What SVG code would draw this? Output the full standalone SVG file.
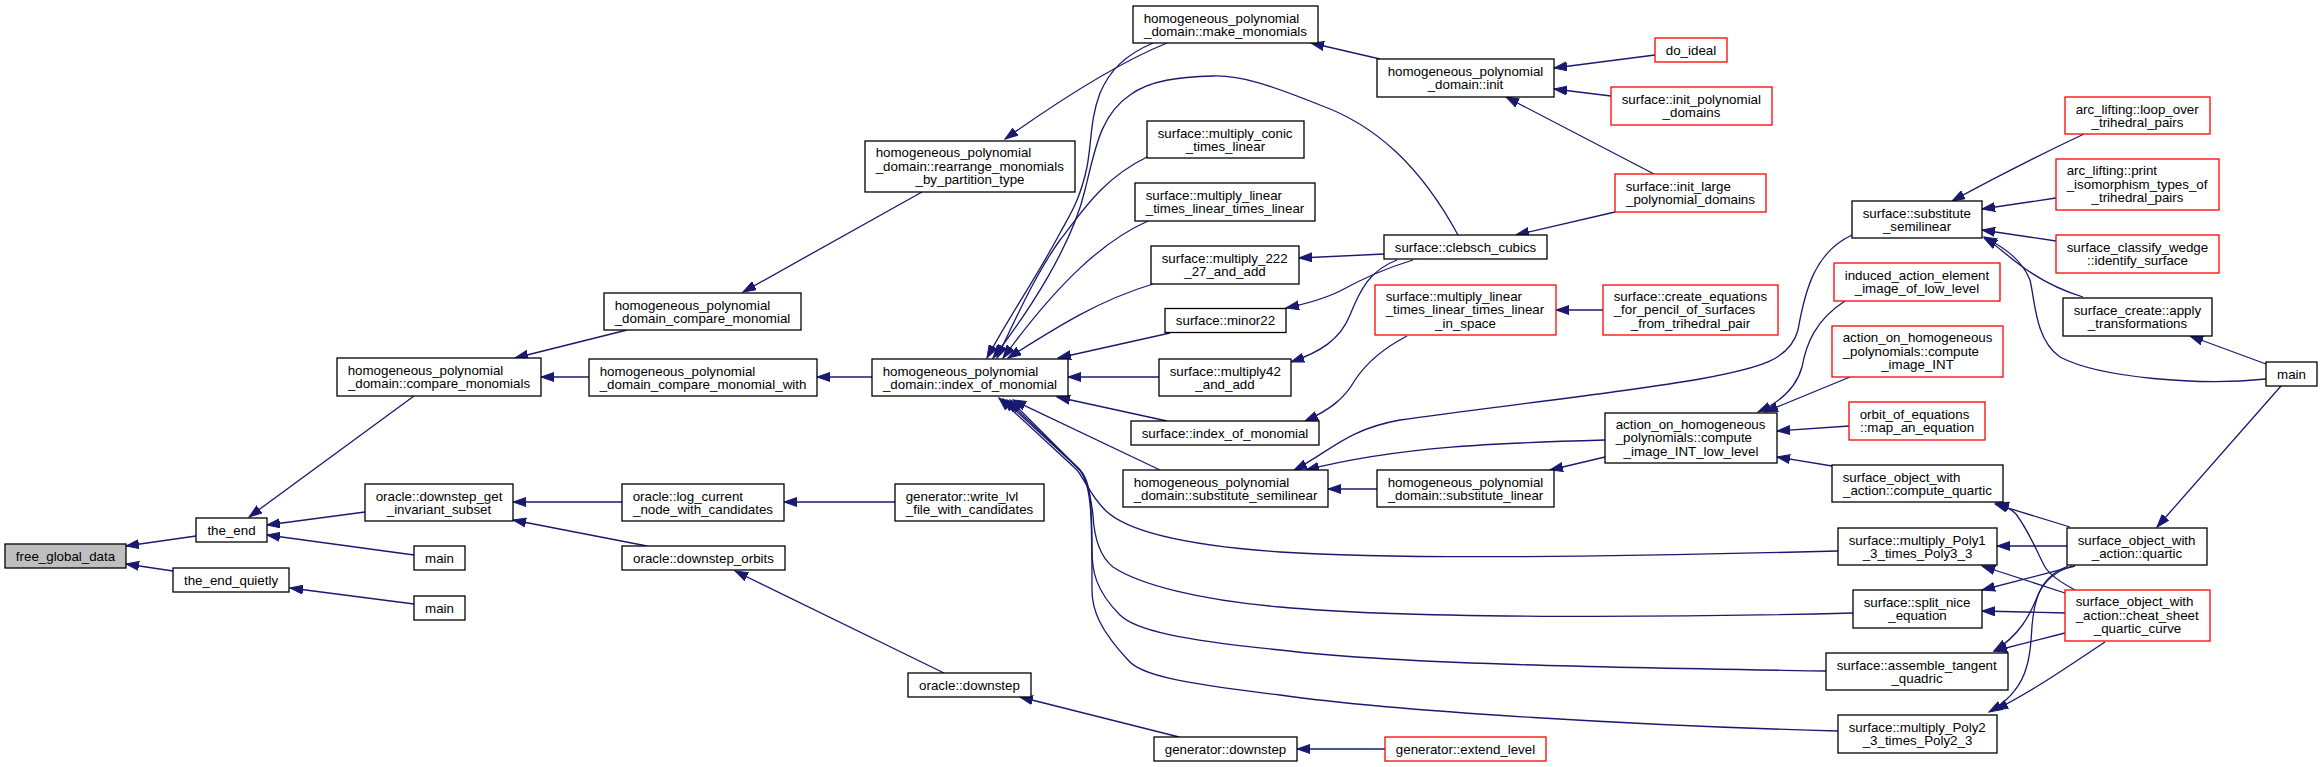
<svg xmlns="http://www.w3.org/2000/svg" width="2323" height="767" viewBox="0 0 2323 767">
<style>
.n rect{fill:#fff;stroke:#000;stroke-width:1.3}
.r rect{stroke:#ff0000}
.g rect{fill:#bfbfbf}
text{font-family:"Liberation Sans",Arial,Helvetica,sans-serif;font-size:13.33px;fill:#000}
.m{text-anchor:middle}
#edges path{fill:none;stroke:#191970;stroke-width:1.3;marker-end:url(#a)}
</style>
<defs>
<marker id="a" markerUnits="userSpaceOnUse" markerWidth="14" markerHeight="10" refX="13" refY="5" orient="auto"><path d="M0,0.5 L13,5 L0,9.5 z" fill="#191970" stroke="#191970" stroke-width="1"/></marker>
</defs>
<rect width="2323" height="767" fill="#fff"/>
<g id="edges">
<path d="M196,536 L126,546"/>
<path d="M173,571 L126,564"/>
<path d="M414,396 L249,517"/>
<path d="M365,512 L267,525"/>
<path d="M414,555 L267,535"/>
<path d="M414,604 L290,588"/>
<path d="M627,330 L515,358"/>
<path d="M589,377 L541,377"/>
<path d="M922,192 L743,292"/>
<path d="M1167,43 C1120,62 1060,100 1005,139"/>
<path d="M872,377 L817,377"/>
<path d="M1153,43 C1125,55 1110,70 1100,93 C1090,120 1092,140 1087,167 C1080,200 1070,215 1060,233 C1035,280 1010,315 987,358"/>
<path d="M1458,235 C1420,165 1375,125 1320,105 C1270,85 1240,75 1213,76 C1180,77 1150,80 1130,95 C1100,115 1095,150 1085,190 C1072,245 1030,310 993,358"/>
<path d="M1147,157 C1100,180 1080,215 1060,240 C1035,275 1015,320 997,358"/>
<path d="M1148,221 C1105,240 1060,280 1003,358"/>
<path d="M1153,284 C1100,300 1060,325 1008,358"/>
<path d="M1170,333 L1058,358"/>
<path d="M1159,377 L1068,377"/>
<path d="M1167,421 L1057,397"/>
<path d="M1160,470 L1013,400"/>
<path d="M1838,551 C1650,556 1400,560 1280,552 C1180,545 1125,530 1105,510 C1090,495 1085,480 1077,470 L999,398"/>
<path d="M1853,613 C1700,617 1420,620 1280,607 C1200,600 1140,585 1113,567 C1098,555 1094,535 1093,515 C1090,490 1085,475 1078,468 L1003,399"/>
<path d="M1826,671 C1650,668 1400,665 1280,650 C1180,640 1135,630 1120,615 C1095,590 1092,570 1092,550 C1092,500 1090,480 1080,470 L1007,400"/>
<path d="M1838,731 C1650,726 1400,712 1280,695 C1180,683 1140,675 1128,660 C1100,630 1092,610 1092,590 C1092,520 1092,485 1080,470 L1010,400"/>
<path d="M1380,59 L1311,43"/>
<path d="M1655,55 L1554,68"/>
<path d="M1611,96 L1554,89"/>
<path d="M1654,174 L1506,97"/>
<path d="M1615,212 L1516,235"/>
<path d="M1384,254 L1299,258"/>
<path d="M1413,260 C1380,270 1360,280 1340,291 C1322,300 1305,304 1286,308"/>
<path d="M1397,260 C1370,270 1360,290 1350,315 C1340,340 1320,352 1291,362"/>
<path d="M1407,336 C1380,350 1365,365 1355,380 C1345,398 1330,410 1305,421"/>
<path d="M1603,310 L1556,310"/>
<path d="M1852,235 C1815,252 1805,290 1798,330 C1790,360 1760,368 1700,379 C1600,396 1480,408 1400,420 C1345,430 1330,452 1294,470"/>
<path d="M1605,440 C1500,443 1400,446 1306,470"/>
<path d="M1377,489 L1328,489"/>
<path d="M1605,457 L1550,470"/>
<path d="M1845,301 C1815,320 1806,345 1802,367 C1797,385 1785,400 1758,412"/>
<path d="M1850,377 L1765,412"/>
<path d="M1849,426 L1777,431"/>
<path d="M1832,466 L1777,457"/>
<path d="M2084,134 C2050,150 2000,175 1952,201"/>
<path d="M2056,198 L1982,209"/>
<path d="M2056,241 L1982,230"/>
<path d="M2083,297 C2060,290 2040,280 2020,265 C2005,254 1998,246 1984,238"/>
<path d="M2266,379 C2200,386 2100,378 2060,357 C2035,340 2035,300 2030,280 C2022,260 2005,248 1984,237"/>
<path d="M2266,364 L2190,336"/>
<path d="M2281,386 L2157,527"/>
<path d="M2070,527 L1995,504"/>
<path d="M2067,546 L1997,546"/>
<path d="M2075,566 L1982,590"/>
<path d="M2072,566 C2055,572 2045,580 2038,595 C2030,615 2020,635 1994,651"/>
<path d="M2068,566 C2045,575 2035,590 2032,626 C2030,660 2028,690 1989,712"/>
<path d="M2075,590 C2060,582 2050,575 2045,567 C2036,550 2030,533 2016,514 C2010,508 2003,505 1996,503"/>
<path d="M2065,593 L1982,566"/>
<path d="M2065,613 L1982,611"/>
<path d="M2065,633 L1994,651"/>
<path d="M2105,642 C2070,665 2035,690 1995,710"/>
<path d="M622,502 L513,502"/>
<path d="M647,546 L513,520"/>
<path d="M895,502 L784,502"/>
<path d="M944,673 L735,571"/>
<path d="M1179,737 L1020,697"/>
<path d="M1385,749 L1297,749"/>
</g>
<g id="n1" class="n g"><rect x="5" y="544" width="121" height="24"/><text class="m" x="65.5" y="560.5">free_global_data</text></g>
<g id="n2" class="n"><rect x="196" y="518" width="71" height="24"/><text class="m" x="231.5" y="534.5">the_end</text></g>
<g id="n3" class="n"><rect x="173" y="568" width="116" height="24"/><text class="m" x="231" y="584.5">the_end_quietly</text></g>
<g id="n4" class="n"><rect x="337" y="358" width="204" height="38"/><text x="347.7" y="375">homogeneous_polynomial</text><text class="m" x="439" y="388.3">_domain::compare_monomials</text></g>
<g id="n5" class="n"><rect x="365" y="484" width="148" height="37"/><text x="375.7" y="500.5">oracle::downstep_get</text><text class="m" x="439" y="513.8">_invariant_subset</text></g>
<g id="n6" class="n"><rect x="414" y="546" width="51" height="24"/><text class="m" x="439.5" y="562.5">main</text></g>
<g id="n7" class="n"><rect x="414" y="596" width="51" height="24"/><text class="m" x="439.5" y="612.5">main</text></g>
<g id="n8" class="n"><rect x="604" y="293" width="197" height="37"/><text x="614.7" y="309.5">homogeneous_polynomial</text><text class="m" x="702.5" y="322.8">_domain_compare_monomial</text></g>
<g id="n9" class="n"><rect x="589" y="359" width="228" height="37"/><text x="599.7" y="375.5">homogeneous_polynomial</text><text class="m" x="703" y="388.8">_domain_compare_monomial_with</text></g>
<g id="n10" class="n"><rect x="622" y="484" width="162" height="37"/><text x="632.7" y="500.5">oracle::log_current</text><text class="m" x="703" y="513.8">_node_with_candidates</text></g>
<g id="n11" class="n"><rect x="622" y="546" width="163" height="24"/><text class="m" x="703.5" y="562.5">oracle::downstep_orbits</text></g>
<g id="n12" class="n"><rect x="865" y="141" width="210" height="51"/><text x="875.7" y="157.3">homogeneous_polynomial</text><text x="875.7" y="170.7">_domain::rearrange_monomials</text><text class="m" x="970" y="184">_by_partition_type</text></g>
<g id="n13" class="n"><rect x="872" y="359" width="196" height="37"/><text x="882.7" y="375.5">homogeneous_polynomial</text><text class="m" x="970" y="388.8">_domain::index_of_monomial</text></g>
<g id="n14" class="n"><rect x="895" y="484" width="149" height="37"/><text x="905.7" y="500.5">generator::write_lvl</text><text class="m" x="969.5" y="513.8">_file_with_candidates</text></g>
<g id="n15" class="n"><rect x="908" y="673" width="123" height="24"/><text class="m" x="969.5" y="689.5">oracle::downstep</text></g>
<g id="n16" class="n"><rect x="1133" y="6" width="185" height="37"/><text x="1143.7" y="22.5">homogeneous_polynomial</text><text class="m" x="1225.5" y="35.8">_domain::make_monomials</text></g>
<g id="n17" class="n"><rect x="1147" y="121" width="157" height="37"/><text x="1157.7" y="137.5">surface::multiply_conic</text><text class="m" x="1225.5" y="150.8">_times_linear</text></g>
<g id="n18" class="n"><rect x="1135" y="183" width="180" height="38"/><text x="1145.7" y="200">surface::multiply_linear</text><text class="m" x="1225" y="213.3">_times_linear_times_linear</text></g>
<g id="n19" class="n"><rect x="1151" y="246" width="148" height="38"/><text x="1161.7" y="263">surface::multiply_222</text><text class="m" x="1225" y="276.3">_27_and_add</text></g>
<g id="n20" class="n"><rect x="1165" y="308.5" width="121" height="24"/><text class="m" x="1225.5" y="325">surface::minor22</text></g>
<g id="n21" class="n"><rect x="1159" y="359" width="132" height="37"/><text x="1169.7" y="375.5">surface::multiply42</text><text class="m" x="1225" y="388.8">_and_add</text></g>
<g id="n22" class="n"><rect x="1131" y="421" width="188" height="24"/><text class="m" x="1225" y="437.5">surface::index_of_monomial</text></g>
<g id="n23" class="n"><rect x="1123" y="470" width="205" height="37"/><text x="1133.7" y="486.5">homogeneous_polynomial</text><text class="m" x="1225.5" y="499.8">_domain::substitute_semilinear</text></g>
<g id="n24" class="n"><rect x="1154" y="737" width="143" height="24"/><text class="m" x="1225.5" y="753.5">generator::downstep</text></g>
<g id="n25" class="n"><rect x="1377" y="59" width="177" height="38"/><text x="1387.7" y="76">homogeneous_polynomial</text><text class="m" x="1465.5" y="89.3">_domain::init</text></g>
<g id="n26" class="n"><rect x="1384" y="235" width="163" height="24"/><text class="m" x="1465.5" y="251.5">surface::clebsch_cubics</text></g>
<g id="n27" class="n r"><rect x="1375" y="285" width="181" height="50"/><text x="1385.7" y="300.8">surface::multiply_linear</text><text x="1385.7" y="314.2">_times_linear_times_linear</text><text class="m" x="1465.5" y="327.5">_in_space</text></g>
<g id="n28" class="n"><rect x="1377" y="470" width="177" height="37"/><text x="1387.7" y="486.5">homogeneous_polynomial</text><text class="m" x="1465.5" y="499.8">_domain::substitute_linear</text></g>
<g id="n29" class="n r"><rect x="1385" y="737" width="161" height="24"/><text class="m" x="1465.5" y="753.5">generator::extend_level</text></g>
<g id="n30" class="n r"><rect x="1655" y="38" width="72" height="24"/><text class="m" x="1691" y="54.5">do_ideal</text></g>
<g id="n31" class="n r"><rect x="1611" y="87" width="161" height="38"/><text x="1621.7" y="104">surface::init_polynomial</text><text class="m" x="1691.5" y="117.3">_domains</text></g>
<g id="n32" class="n r"><rect x="1615" y="174" width="151" height="38"/><text x="1625.7" y="191">surface::init_large</text><text class="m" x="1690.5" y="204.3">_polynomial_domains</text></g>
<g id="n33" class="n r"><rect x="1603" y="285" width="175" height="50"/><text x="1613.7" y="300.8">surface::create_equations</text><text x="1613.7" y="314.2">_for_pencil_of_surfaces</text><text class="m" x="1690.5" y="327.5">_from_trihedral_pair</text></g>
<g id="n34" class="n"><rect x="1605" y="413" width="172" height="50"/><text x="1615.7" y="428.8">action_on_homogeneous</text><text x="1615.7" y="442.2">_polynomials::compute</text><text class="m" x="1691" y="455.5">_image_INT_low_level</text></g>
<g id="n35" class="n"><rect x="1852" y="201" width="130" height="37"/><text x="1862.7" y="217.5">surface::substitute</text><text class="m" x="1917" y="230.8">_semilinear</text></g>
<g id="n36" class="n r"><rect x="1834" y="263" width="166" height="38"/><text x="1844.7" y="280">induced_action_element</text><text class="m" x="1917" y="293.3">_image_of_low_level</text></g>
<g id="n37" class="n r"><rect x="1832" y="326" width="171" height="51"/><text x="1842.7" y="342.3">action_on_homogeneous</text><text x="1842.7" y="355.7">_polynomials::compute</text><text class="m" x="1917.5" y="369">_image_INT</text></g>
<g id="n38" class="n r"><rect x="1849" y="402" width="136" height="38"/><text x="1859.7" y="419">orbit_of_equations</text><text class="m" x="1917" y="432.3">::map_an_equation</text></g>
<g id="n39" class="n"><rect x="1832" y="465" width="171" height="37"/><text x="1842.7" y="481.5">surface_object_with</text><text class="m" x="1917.5" y="494.8">_action::compute_quartic</text></g>
<g id="n40" class="n"><rect x="1838" y="528" width="159" height="37"/><text x="1848.7" y="544.5">surface::multiply_Poly1</text><text class="m" x="1917.5" y="557.8">_3_times_Poly3_3</text></g>
<g id="n41" class="n"><rect x="1853" y="590" width="129" height="38"/><text x="1863.7" y="607">surface::split_nice</text><text class="m" x="1917.5" y="620.3">_equation</text></g>
<g id="n42" class="n"><rect x="1826" y="653" width="182" height="37"/><text x="1836.7" y="669.5">surface::assemble_tangent</text><text class="m" x="1917" y="682.8">_quadric</text></g>
<g id="n43" class="n"><rect x="1838" y="715" width="159" height="38"/><text x="1848.7" y="732">surface::multiply_Poly2</text><text class="m" x="1917.5" y="745.3">_3_times_Poly2_3</text></g>
<g id="n44" class="n r"><rect x="2065" y="97" width="145" height="37"/><text x="2075.7" y="113.5">arc_lifting::loop_over</text><text class="m" x="2137.5" y="126.8">_trihedral_pairs</text></g>
<g id="n45" class="n r"><rect x="2056" y="159" width="163" height="51"/><text x="2066.7" y="175.3">arc_lifting::print</text><text x="2066.7" y="188.7">_isomorphism_types_of</text><text class="m" x="2137.5" y="202">_trihedral_pairs</text></g>
<g id="n46" class="n r"><rect x="2056" y="235" width="163" height="38"/><text x="2066.7" y="252">surface_classify_wedge</text><text class="m" x="2137.5" y="265.3">::identify_surface</text></g>
<g id="n47" class="n"><rect x="2063" y="298" width="149" height="38"/><text x="2073.7" y="315">surface_create::apply</text><text class="m" x="2137.5" y="328.3">_transformations</text></g>
<g id="n48" class="n"><rect x="2266" y="362" width="51" height="24"/><text class="m" x="2291.5" y="378.5">main</text></g>
<g id="n49" class="n"><rect x="2067" y="528" width="140" height="37"/><text x="2077.7" y="544.5">surface_object_with</text><text class="m" x="2137" y="557.8">_action::quartic</text></g>
<g id="n50" class="n r"><rect x="2065" y="590" width="145" height="51"/><text x="2075.7" y="606.3">surface_object_with</text><text x="2075.7" y="619.7">_action::cheat_sheet</text><text class="m" x="2137.5" y="633">_quartic_curve</text></g>
</svg>
